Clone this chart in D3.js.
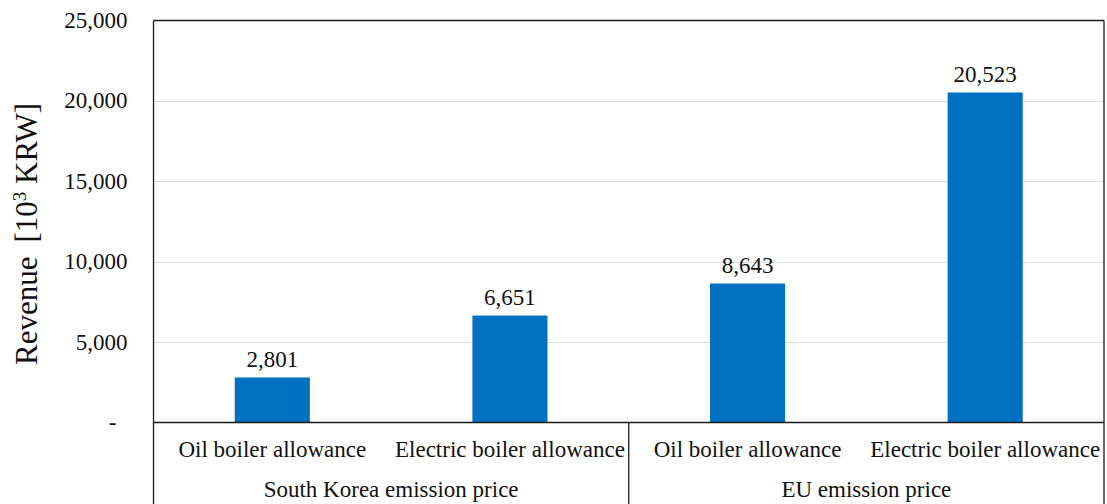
<!DOCTYPE html>
<html>
<head>
<meta charset="utf-8">
<script src="https://cdn.jsdelivr.net/npm/d3@7"></script>
<style>
  html, body { margin: 0; padding: 0; background: #fff; }
  svg text { font-family: 'Liberation Serif', 'Times New Roman', Times, 'DejaVu Serif', serif; }
</style>
</head>
<body>
<svg id="chart" width="1107" height="504"></svg>
<script>
// Revenue by allowance type under two emission price scenarios
const groups = ["South Korea emission price", "EU emission price"];
const categories = ["Oil boiler allowance", "Electric boiler allowance", "Oil boiler allowance", "Electric boiler allowance"];
const categoryGroup = [0, 0, 1, 1];
const revenue = [2801, 6651, 8643, 20523];
const yTicks = [0, 5000, 10000, 15000, 20000, 25000];

const SERIF = "'Liberation Serif', 'Times New Roman', Times, 'DejaVu Serif', serif";
const svg = d3.select("#chart").attr("font-family", SERIF);
const W = 1107, H = 504;
const plot = { left: 153.5, right: 1104, top: 20.5, bottom: 422.5 };

const x = d3.scaleBand()
  .domain(d3.range(categories.length))
  .range([plot.left, plot.right])
  .paddingInner(0.684)
  .paddingOuter(0.342);

const y = d3.scaleLinear().domain([0, 25000]).range([plot.bottom, plot.top]);

const fmt = d3.format(",");

// horizontal gridlines
svg.append("g")
  .selectAll("line")
  .data(yTicks.filter(t => t > 0 && t < 25000))
  .join("line")
  .attr("x1", plot.left).attr("x2", plot.right)
  .attr("y1", d => Math.round(y(d)) + 0.5).attr("y2", d => Math.round(y(d)) + 0.5)
  .attr("stroke", "#dcdcdc").attr("stroke-width", 1.2);

// y axis tick labels
const yAxis = d3.axisLeft(y).tickValues(yTicks).tickSize(0).tickPadding(0)
  .tickFormat(d => d === 0 ? "-" : fmt(d));
const gy = svg.append("g").attr("transform", `translate(127.5,0)`).call(yAxis)
  .attr("font-family", SERIF).attr("font-size", 23);
gy.select(".domain").remove();
gy.selectAll("text")
  .attr("fill", "#111")
  .attr("dy", "0.3em");
gy.selectAll(".tick").filter(d => d === 0).select("text")
  .attr("text-anchor", "middle").attr("x", -15);

// bars
svg.append("g")
  .selectAll("rect")
  .data(revenue)
  .join("rect")
  .attr("x", (d, i) => x(i))
  .attr("width", x.bandwidth())
  .attr("y", d => y(d))
  .attr("height", d => plot.bottom - y(d))
  .attr("fill", "#0070C0");

// value labels
svg.append("g")
  .selectAll("text")
  .data(revenue)
  .join("text")
  .attr("x", (d, i) => x(i) + x.bandwidth() / 2)
  .attr("y", d => y(d) - 10.5)
  .attr("text-anchor", "middle")
  .attr("font-size", 23)
  .attr("fill", "#111")
  .text(d => fmt(d));

// frame and category table lines
const step = (plot.right - plot.left) / categories.length;
const frame = svg.append("g").attr("stroke", "#1a1a1a").attr("stroke-width", 1.3).attr("fill", "none");
frame.append("line").attr("x1", plot.left).attr("x2", plot.right).attr("y1", plot.top).attr("y2", plot.top);
frame.append("line").attr("x1", plot.left).attr("x2", plot.right).attr("y1", plot.bottom).attr("y2", plot.bottom);
frame.append("line").attr("x1", plot.left).attr("x2", plot.left).attr("y1", plot.top).attr("y2", H);
frame.append("line").attr("x1", plot.right).attr("x2", plot.right).attr("y1", plot.top).attr("y2", H);
frame.append("line")
  .attr("x1", plot.left + step * 2).attr("x2", plot.left + step * 2)
  .attr("y1", plot.bottom).attr("y2", H);

// category labels
svg.append("g")
  .selectAll("text")
  .data(categories)
  .join("text")
  .attr("x", (d, i) => x(i) + x.bandwidth() / 2)
  .attr("y", 457)
  .attr("text-anchor", "middle")
  .attr("font-size", 23)
  .attr("fill", "#111")
  .text(d => d);

// group labels
svg.append("g")
  .selectAll("text")
  .data(groups)
  .join("text")
  .attr("x", (d, gi) => {
    const idx = categoryGroup.map((g, i) => g === gi ? i : -1).filter(i => i >= 0);
    return (x(idx[0]) + x(idx[idx.length - 1]) + x.bandwidth()) / 2;
  })
  .attr("y", 497)
  .attr("text-anchor", "middle")
  .attr("font-size", 23)
  .attr("fill", "#111")
  .text(d => d);

// y axis title
const title = svg.append("text")
  .attr("transform", "translate(36.5,234) rotate(-90)")
  .attr("text-anchor", "middle")
  .attr("font-size", 31)
  .attr("fill", "#111");
title.append("tspan").text("Revenue");
title.append("tspan").attr("dx", 14).text("[10");
title.append("tspan").attr("font-size", 19).attr("dy", -11).text("3");
title.append("tspan").attr("dy", 11).text(" KRW]");
</script>
</body>
</html>
